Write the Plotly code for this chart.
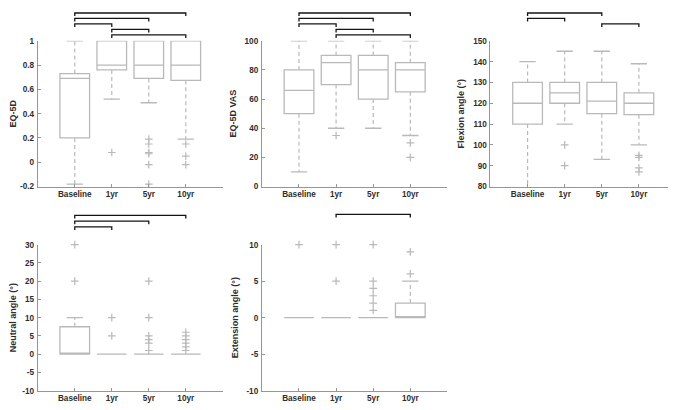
import plotly.graph_objects as go

categories = ["Baseline", "1yr", "5yr", "10yr"]

# EQ-5D
eq5d_lo = [-0.18, 0.52, 0.49, 0.19]
eq5d_q1 = [0.20, 0.76, 0.69, 0.675]
eq5d_med = [0.69, 0.80, 0.80, 0.80]
eq5d_q3 = [0.73, 1.00, 1.00, 1.00]
eq5d_hi = [1.00, 1.00, 1.00, 1.00]
eq5d_out = [[], [0.08], [0.19, 0.15, 0.08, 0.07, -0.02, -0.18], [0.15, 0.05, -0.02]]
eq5d_sig = [("Baseline", "10yr"), ("Baseline", "5yr"), ("Baseline", "1yr"), ("1yr", "5yr"), ("1yr", "10yr")]
eq5d_ticks = [-0.2, 0, 0.2, 0.4, 0.6, 0.8, 1]
eq5d_ticktext = ["-0.2", "0", "0.2", "0.4", "0.6", "0.8", "1"]

# EQ-5D VAS
vas_lo = [10, 40, 40, 35]
vas_q1 = [50, 70, 60, 65]
vas_med = [66, 85, 80, 80]
vas_q3 = [80, 90, 90, 85]
vas_hi = [100, 100, 100, 100]
vas_out = [[], [35], [], [30, 20]]
vas_sig = [("Baseline", "10yr"), ("Baseline", "5yr"), ("Baseline", "1yr"), ("1yr", "5yr"), ("1yr", "10yr")]
vas_ticks = [0, 20, 40, 60, 80, 100]
vas_ticktext = ["0", "20", "40", "60", "80", "100"]

# Flexion angle
flex_lo = [75, 110, 93, 100]
flex_q1 = [110, 120, 115, 114.5]
flex_med = [120, 125, 121, 120]
flex_q3 = [130, 130, 130, 125]
flex_hi = [140, 145, 145, 139]
flex_out = [[], [100, 90], [], [95, 94, 89, 87]]
flex_sig = [("Baseline", "5yr"), ("Baseline", "1yr"), ("5yr", "10yr")]
flex_ticks = [80, 90, 100, 110, 120, 130, 140, 150]
flex_ticktext = ["80", "90", "100", "110", "120", "130", "140", "150"]

# Neutral angle
neu_lo = [0, 0, 0, 0]
neu_q1 = [0, 0, 0, 0]
neu_med = [0, 0, 0, 0]
neu_q3 = [7.5, 0, 0, 0]
neu_hi = [10, 0, 0, 0]
neu_out = [[20, 30], [5, 10], [20, 10, 5, 4, 3, 1], [6, 5, 4, 3, 2, 1]]
neu_sig = [("Baseline", "10yr"), ("Baseline", "5yr"), ("Baseline", "1yr")]
neu_ticks = [-10, -5, 0, 5, 10, 15, 20, 25, 30]
neu_ticktext = ["-10", "-5", "0", "5", "10", "15", "20", "25", "30"]

# Extension angle
ext_lo = [0, 0, 0, 0]
ext_q1 = [0, 0, 0, 0]
ext_med = [0, 0, 0, 0]
ext_q3 = [0, 0, 0, 2]
ext_hi = [0, 0, 0, 5]
ext_out = [[10], [10, 5], [10, 5, 4, 3, 2, 1], [9, 6]]
ext_sig = [("1yr", "10yr")]
ext_ticks = [-10, -5, 0, 5, 10]
ext_ticktext = ["-10", "-5", "0", "5", "10"]

# The page body has an 8px default margin: work in page pixels and shift.
OFF = 8
W, H = 668, 402
BOX = "rgb(185,185,185)"
AXIS = "rgb(150,150,150)"
TXT = "rgb(45,45,45)"
FONT = "Liberation Sans, Arial, sans-serif"


def fx(px):
    return (px - OFF) / W


def fy(py):
    return 1 - (py - OFF) / H


panels = [
    dict(lo=eq5d_lo, q1=eq5d_q1, med=eq5d_med, q3=eq5d_q3, hi=eq5d_hi, out=eq5d_out, sig=eq5d_sig,
         ticks=eq5d_ticks, ticktext=eq5d_ticktext, yr=[-0.2, 1], title="EQ-5D",
         px=(31, 218), py=(37.5, 186.5), sigtop=9.0, sigstep=5.6),
    dict(lo=vas_lo, q1=vas_q1, med=vas_med, q3=vas_q3, hi=vas_hi, out=vas_out, sig=vas_sig,
         ticks=vas_ticks, ticktext=vas_ticktext, yr=[0, 100], title="EQ-5D VAS",
         px=(257.5, 445), py=(37.5, 186.5), sigtop=9.0, sigstep=5.6),
    dict(lo=flex_lo, q1=flex_q1, med=flex_med, q3=flex_q3, hi=flex_hi, out=flex_out, sig=flex_sig,
         ticks=flex_ticks, ticktext=flex_ticktext, yr=[80, 150], title="Flexion angle (°)",
         px=(488.5, 676), py=(37.5, 186.5), sigtop=9.0, sigstep=5.6),
    dict(lo=neu_lo, q1=neu_q1, med=neu_med, q3=neu_q3, hi=neu_hi, out=neu_out, sig=neu_sig,
         ticks=neu_ticks, ticktext=neu_ticktext, yr=[-10, 30], title="Neutral angle (°)",
         px=(31, 218), py=(246, 395.3), sigtop=216.0, sigstep=5.85),
    dict(lo=ext_lo, q1=ext_q1, med=ext_med, q3=ext_q3, hi=ext_hi, out=ext_out, sig=ext_sig,
         ticks=ext_ticks, ticktext=ext_ticktext, yr=[-10, 10], title="Extension angle (°)",
         px=(257.5, 445), py=(246, 395.3), sigtop=215.0, sigstep=5.85),
]

fig = go.Figure()
xpos = [1, 2, 3, 4]
cat_index = {c: i + 1 for i, c in enumerate(categories)}
shapes = []

for k, p in enumerate(panels):
    sfx = "" if k == 0 else str(k + 1)
    xa, ya = "x" + sfx, "y" + sfx

    fig.add_trace(go.Box(
        x=xpos, q1=p["q1"], median=p["med"], q3=p["q3"],
        lowerfence=p["q1"], upperfence=p["q3"],
        width=0.8, whiskerwidth=0, boxpoints=False,
        fillcolor="rgba(0,0,0,0)", line=dict(color=BOX, width=1.3),
        xaxis=xa, yaxis=ya, showlegend=False, hoverinfo="skip"))

    wx, wy, cx, cy = [], [], [], []
    for i, x in enumerate(xpos):
        if p["hi"][i] > p["q3"][i]:
            wx += [x, x, None]
            wy += [p["q3"][i], p["hi"][i], None]
            cx += [x - 0.22, x + 0.22, None]
            cy += [p["hi"][i], p["hi"][i], None]
        if p["lo"][i] < p["q1"][i]:
            wx += [x, x, None]
            wy += [p["q1"][i], p["lo"][i], None]
            cx += [x - 0.22, x + 0.22, None]
            cy += [p["lo"][i], p["lo"][i], None]
    fig.add_trace(go.Scatter(x=wx, y=wy, mode="lines",
                             line=dict(color=BOX, width=1.2, dash="4px,3px"),
                             xaxis=xa, yaxis=ya, showlegend=False, hoverinfo="skip"))
    fig.add_trace(go.Scatter(x=cx, y=cy, mode="lines",
                             line=dict(color=BOX, width=1.3),
                             xaxis=xa, yaxis=ya, showlegend=False, hoverinfo="skip"))

    ox, oy = [], []
    for i, x in enumerate(xpos):
        ox += [x] * len(p["out"][i])
        oy += p["out"][i]
    fig.add_trace(go.Scatter(x=ox, y=oy, mode="markers",
                             marker=dict(symbol="cross-thin", size=5.5,
                                         line=dict(color=BOX, width=1.2)),
                             xaxis=xa, yaxis=ya, showlegend=False, hoverinfo="skip",
                             cliponaxis=False))

    for lvl, (a, b) in enumerate(p["sig"]):
        ypix = p["sigtop"] + p["sigstep"] * lvl
        yt = fy(ypix)
        yb = fy(ypix + 3.2)
        x1, x2 = cat_index[a], cat_index[b]
        shapes.append(dict(type="path", xref=xa, yref="paper",
                           path=f"M {x1},{yb} L {x1},{yt} L {x2},{yt} L {x2},{yb}",
                           line=dict(color="rgb(20,20,20)", width=1.3)))

    axis_common = dict(showline=True, linecolor=AXIS, linewidth=1, mirror=False,
                       ticks="inside", ticklen=3, tickcolor=AXIS, tickwidth=1,
                       showgrid=False, zeroline=False,
                       tickfont=dict(family=FONT, size=8.2, color=TXT, weight="bold"))
    fig.layout["xaxis" + sfx] = dict(
        domain=[fx(p["px"][0]), min(1.0, fx(p["px"][1]))], anchor=ya, range=[0, 5],
        tickmode="array", tickvals=xpos, ticktext=categories, **axis_common)
    fig.layout["yaxis" + sfx] = dict(
        domain=[fy(p["py"][1]), fy(p["py"][0])], anchor=xa, range=p["yr"],
        tickmode="array", tickvals=p["ticks"], ticktext=p["ticktext"],
        ticklabelstandoff=1,
        title=dict(text=p["title"], standoff=6,
                   font=dict(family=FONT, size=9, color=TXT, weight="bold")),
        **axis_common)

fig.update_layout(width=W, height=H, margin=dict(l=0, r=0, t=0, b=0),
                  paper_bgcolor="white", plot_bgcolor="white",
                  shapes=shapes, showlegend=False)

fig.write_html("out.html")
